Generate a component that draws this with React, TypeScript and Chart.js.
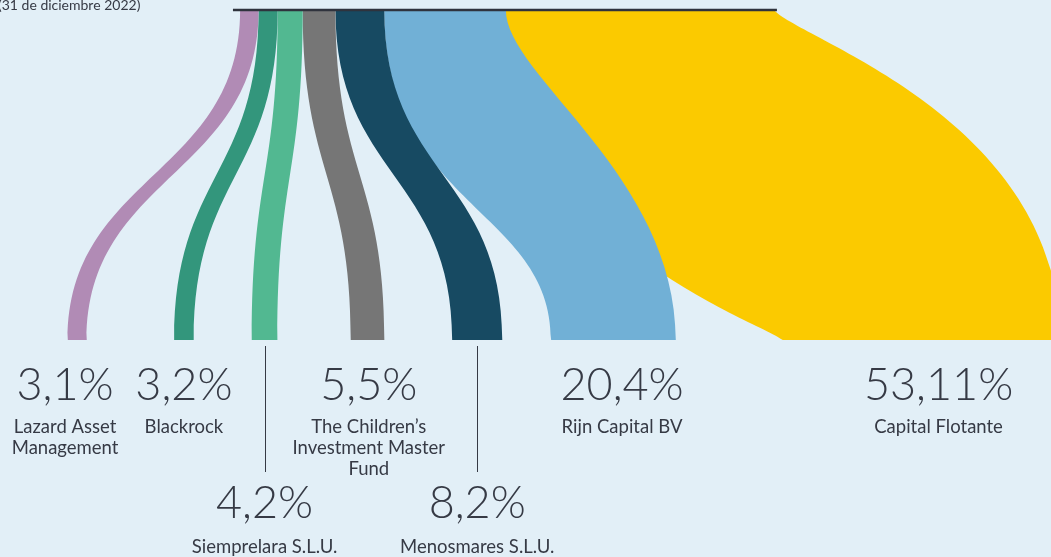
import { useEffect, useRef } from 'react';
import { Chart, registerables, Plugin } from 'chart.js';

Chart.register(...registerables);

// shareholders, left to right
const holders = [
  ['Lazard Asset', 'Management'],
  ['Blackrock'],
  ['Siemprelara S.L.U.'],
  ['The Children’s', 'Investment Master', 'Fund'],
  ['Menosmares S.L.U.'],
  ['Rijn Capital BV'],
  ['Capital Flotante'],
];
const shares = [3.1, 3.2, 4.2, 5.5, 8.2, 20.4, 53.11];
const shareLabels = ['3,1%', '3,2%', '4,2%', '5,5%', '8,2%', '20,4%', '53,11%'];
const caption = '(31 de diciembre 2022)';

const colors = ['#b18bb5', '#33967c', '#52b891', '#767676', '#174a62', '#71b0d6', '#fbca00'];
const BG = '#e2eff7';
const INK = '#363a45';

// layout in share units (1 unit = 1 percentage point)
const X_MAX = 172; // bottom scale
const X_TOP_MAX = 176.4; // top scale, slightly tighter
const TOP_START = 40.3;
const TOP_LINE = [39.1, 130.4];
const BOTTOM_START = [11.1, 28.5, 41.2, 57.4, 74.0, 90.2, 128.1];
const LABEL_ROW = [0, 0, 1, 0, 1, 0, 0];
const LABEL_SHIFT = [-2, 0, 0, 0.2, 0, 1.4, 2.8];

// bezier control points per edge: [dx1, dy1, dx2, dy2] as fractions
const STD = [0, 0.5, 0, 0.5];
const CURVES = [
  [STD, STD],
  [STD, STD],
  [STD, STD],
  [STD, STD],
  [STD, STD],
  [[0, 0.6, 0, 0.6], [0, 0.2, 0, 0.5]],
  [[0, 0.697, 0.087, 0.94], [0.09, 0.09, 0, 0.33]],
];

const flowPlugin: Plugin<'scatter'> = {
  id: 'flows',
  beforeDraw(chart) {
    const { ctx, width, height } = chart;
    ctx.save();
    ctx.fillStyle = BG;
    ctx.fillRect(0, 0, width, height);
    ctx.restore();
  },
  afterDraw(chart) {
    const { ctx } = chart;
    const x = chart.scales.x;
    const xTop = chart.scales.xTop;
    const y = chart.scales.y;
    const y0 = y.getPixelForValue(0);
    const y1 = y.getPixelForValue(1);
    const h = y1 - y0;

    let cum = TOP_START;
    const bands = shares.map((v, i) => {
      const t0 = cum;
      cum += v;
      return {
        t0: xTop.getPixelForValue(t0),
        t1: xTop.getPixelForValue(Math.min(cum, TOP_LINE[1] - 0.5)),
        b0: x.getPixelForValue(BOTTOM_START[i]),
        b1: x.getPixelForValue(Math.min(BOTTOM_START[i] + v, X_MAX + 1.5)),
      };
    });

    const edge = (xt: number, xb: number, c: number[]) => {
      const dx = xb - xt;
      return [xt + c[0] * dx, y0 + c[1] * h, xb - c[2] * dx, y0 + c[3] * h];
    };

    ctx.save();
    for (let i = bands.length - 1; i >= 0; i--) {
      const b = bands[i];
      const [l, r] = CURVES[i];
      const le = edge(b.t0, b.b0, l);
      const re = edge(b.t1, b.b1, r);
      ctx.beginPath();
      ctx.moveTo(b.t0, y0);
      ctx.bezierCurveTo(le[0], le[1], le[2], le[3], b.b0, y1);
      ctx.lineTo(b.b1, y1);
      ctx.bezierCurveTo(re[2], re[3], re[0], re[1], b.t1, y0);
      ctx.closePath();
      ctx.fillStyle = colors[i];
      ctx.fill();
    }

    // top line
    ctx.strokeStyle = '#2f333d';
    ctx.lineWidth = 2.5;
    ctx.beginPath();
    ctx.moveTo(xTop.getPixelForValue(TOP_LINE[0]), y0);
    ctx.lineTo(xTop.getPixelForValue(TOP_LINE[1]), y0);
    ctx.stroke();

    // labels
    ctx.fillStyle = INK;
    ctx.textAlign = 'center';
    ctx.textBaseline = 'middle';
    bands.forEach((b, i) => {
      const cx = (b.b0 + b.b1) / 2 + (x.getPixelForValue(LABEL_SHIFT[i]) - x.getPixelForValue(0));
      const row = LABEL_ROW[i];
      const pctY = y1 + (row ? 163 : 45);
      const nameY = y1 + (row ? 207 : 87);
      if (row) {
        ctx.strokeStyle = INK;
        ctx.lineWidth = 1;
        ctx.beginPath();
        ctx.moveTo(Math.round(cx) + 0.5, y1 + 6);
        ctx.lineTo(Math.round(cx) + 0.5, y1 + 132);
        ctx.stroke();
      }
      ctx.font = '300 45px Lato, "Open Sans", sans-serif';
      ctx.fillText(shareLabels[i], cx, pctY);
      ctx.font = '18.5px Lato, "Open Sans", sans-serif';
      holders[i].forEach((line, k) => ctx.fillText(line, cx, nameY + k * 21));
    });

    // caption (cut at the top edge)
    ctx.textAlign = 'left';
    ctx.textBaseline = 'alphabetic';
    ctx.font = '14px Lato, "Open Sans", sans-serif';
    ctx.fillText(caption, -2, 10);
    ctx.restore();
  },
};

export default function App() {
  const canvasRef = useRef<HTMLCanvasElement>(null);

  useEffect(() => {
    document.body.style.margin = '0';
    document.body.style.background = BG;
    if (!canvasRef.current) return;

    const chart = new Chart(canvasRef.current, {
      type: 'scatter',
      data: { datasets: [] },
      options: {
        animation: false,
        responsive: true,
        maintainAspectRatio: false,
        layout: { padding: 0 },
        plugins: { legend: { display: false }, tooltip: { enabled: false } },
        scales: {
          x: { type: 'linear', min: 0, max: X_MAX, display: false },
          xTop: { type: 'linear', axis: 'x', min: 0, max: X_TOP_MAX, display: false },
          y: { type: 'linear', min: -10 / 330, max: 547 / 330, reverse: true, display: false },
        },
      },
      plugins: [flowPlugin],
    });

    return () => chart.destroy();
  }, []);

  return (
    <div style={{ width: 1051, height: 557 }}>
      <canvas ref={canvasRef} />
    </div>
  );
}
